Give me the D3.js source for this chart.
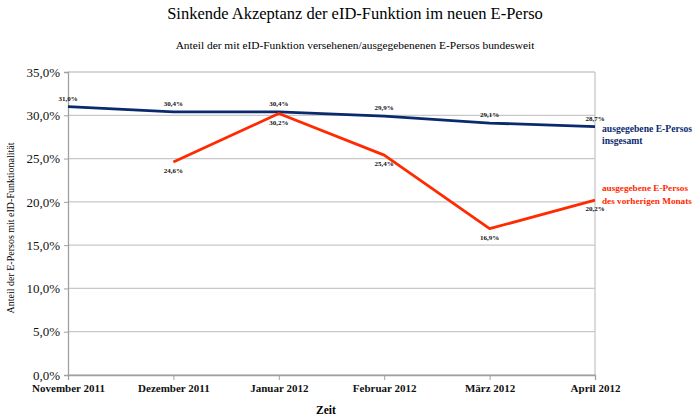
<!DOCTYPE html>
<html>
<head>
<meta charset="utf-8">
<script src="https://cdn.jsdelivr.net/npm/d3@7"></script>
<style>
  body { margin: 0; background: #fff; }
  text { font-family: "Liberation Serif", "DejaVu Serif", serif; }
</style>
</head>
<body>
<svg id="chart" width="700" height="420"></svg>
<script>
const months = ['November 2011', 'Dezember 2011', 'Januar 2012', 'Februar 2012', 'März 2012', 'April 2012'];
const totalShare = [31.0, 30.4, 30.4, 29.9, 29.1, 28.7];
const monthShare = [null, 24.6, 30.2, 25.4, 16.9, 20.2];
const yTicks = [0, 5, 10, 15, 20, 25, 30, 35];

const colors = { total: '#0a2a6e', month: '#ff2a00', grid: '#c8c8c8', axis: '#a0a0a0' };
const margin = { left: 68, right: 105, top: 72, bottom: 45 };
const W = 700, H = 420;

const svg = d3.select('#chart');
const x = d3.scalePoint().domain(months).range([margin.left, W - margin.right]);
const y = d3.scaleLinear().domain([0, 35]).range([H - margin.bottom, margin.top]);
const fmt = v => d3.format('.1f')(v).replace('.', ',') + '%';

// titles
svg.append('text').attr('x', 355).attr('y', 19).attr('text-anchor', 'middle')
  .style('font-size', '16.5px').text('Sinkende Akzeptanz der eID-Funktion im neuen E-Perso');
svg.append('text').attr('x', 355).attr('y', 49).attr('text-anchor', 'middle')
  .style('font-size', '11.4px').text('Anteil der mit eID-Funktion versehenen/ausgegebenenen E-Persos bundesweit');

// grid
svg.append('g').selectAll('line').data(yTicks).join('line')
  .attr('x1', margin.left).attr('x2', W - margin.right)
  .attr('y1', d => y(d)).attr('y2', d => y(d))
  .attr('stroke', colors.grid).attr('stroke-width', 1.3);
svg.append('line').attr('x1', W - margin.right).attr('x2', W - margin.right)
  .attr('y1', y(35)).attr('y2', y(0)).attr('stroke', colors.grid).attr('stroke-width', 1.3);

// axes
const yAxis = svg.append('g').attr('transform', `translate(${margin.left},0)`)
  .call(d3.axisLeft(y).tickValues(yTicks).tickSize(4).tickPadding(4).tickFormat(fmt));
const xAxis = svg.append('g').attr('transform', `translate(0,${y(0)})`)
  .call(d3.axisBottom(x).tickSize(5).tickPadding(4));
[yAxis, xAxis].forEach(a => {
  a.select('.domain').attr('stroke', colors.axis).attr('stroke-width', 1.3);
  a.selectAll('.tick line').attr('stroke', colors.axis);
  a.selectAll('text').attr('fill', '#111').style('font-family', '"Liberation Serif", serif');
});
yAxis.selectAll('text').style('font-size', '13px');
xAxis.selectAll('text').style('font-size', '11px').style('font-weight', 'bold');

// axis titles
svg.append('text').attr('transform', 'translate(14,228) rotate(-90)').attr('text-anchor', 'middle')
  .style('font-size', '10px').text('Anteil der E-Persos mit eID-Funktionalität');
svg.append('text').attr('x', 326).attr('y', 414).attr('text-anchor', 'middle')
  .style('font-size', '11.5px').style('font-weight', 'bold').text('Zeit');

// lines
const line = d3.line().defined(d => d[1] != null).x(d => x(d[0])).y(d => y(d[1]));
const series = [
  { name: 'total', values: totalShare, color: colors.total, dy: -6, labelDy: 5, label: ['ausgegebene E-Persos', 'insgesamt'] },
  { name: 'month', values: monthShare, color: colors.month, dy: 11, labelDy: -9, label: ['ausgegebene E-Persos', 'des vorherigen Monats'] }
];
series.forEach(s => {
  const pts = months.map((m, i) => [m, s.values[i]]);
  svg.append('path').datum(pts).attr('d', line).attr('fill', 'none')
    .attr('stroke', s.color).attr('stroke-width', 2.8).attr('stroke-linejoin', 'round');
  svg.append('g').selectAll('text').data(pts.filter(d => d[1] != null)).join('text')
    .attr('x', d => x(d[0])).attr('y', d => y(d[1]) + s.dy).attr('text-anchor', 'middle')
    .style('font-size', '7px').style('font-weight', 'bold').attr('fill', '#111')
    .text(d => fmt(d[1]));
  const last = s.values[s.values.length - 1];
  const lx = W - margin.right + 7;
  const lbl = svg.append('text').attr('x', lx).attr('y', y(last) + s.labelDy)
    .style('font-weight', 'bold').style('font-size', '10.5px').attr('fill', s.color);
  const spans = s.label.map((t, i) => lbl.append('tspan').attr('x', lx).attr('dy', i ? 12.5 : 0).text(t));
  const widest = d3.max(spans, ts => ts.node().getComputedTextLength()), maxW = 90;
  if (widest > maxW) lbl.style('font-size', (10.5 * maxW / widest).toFixed(2) + 'px');
});
</script>
</body>
</html>
